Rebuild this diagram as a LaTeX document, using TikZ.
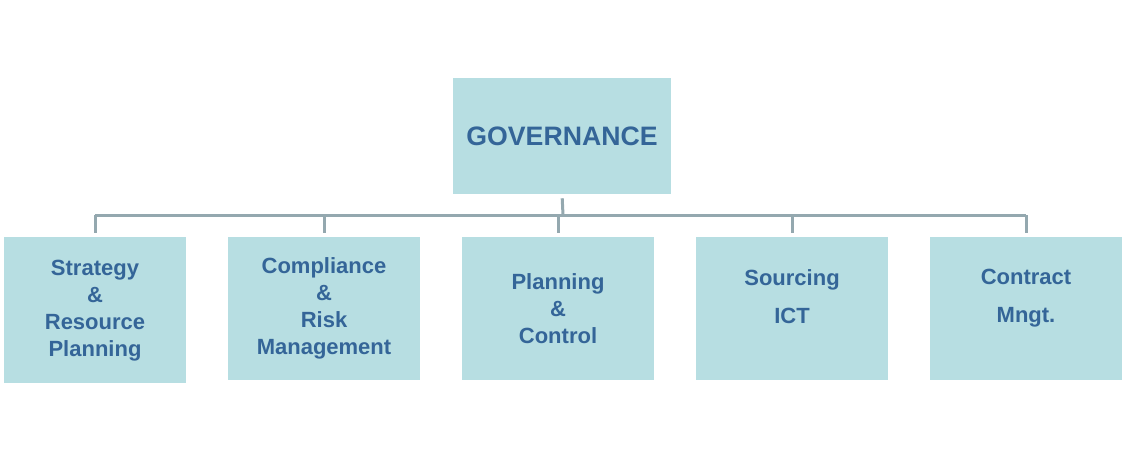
\documentclass[tikz,border=0pt]{standalone}
\usepackage{fontspec}
\setmainfont{Liberation Sans}
\definecolor{boxfill}{RGB}{183,222,226}
\definecolor{boxtext}{RGB}{52,101,152}
\definecolor{linkcol}{RGB}{148,168,175}

\begin{document}
\begin{tikzpicture}[x=0.75pt,y=0.75pt,yscale=-1,xscale=1,
  unit/.style={fill=boxfill, draw=none, text=boxtext, align=center, inner sep=0pt,
    font=\bfseries\fontsize{16.5}{20.25}\selectfont, minimum width=144pt, minimum height=107.25pt, anchor=north},
  link/.style={draw=linkcol, line width=2.25pt}]
%set diagram size
\useasboundingbox (0,0) rectangle (1126,461);

%Shape: Rectangle [top]
\node [unit, anchor=center, minimum width=163.5pt, minimum height=87pt,
  font=\bfseries\fontsize{20}{24}\selectfont] (gov) at (562,136) {GOVERNANCE};

%Shape: Rectangle [units]
\node [unit, minimum width=136.5pt, minimum height=109.5pt] (strat) at (95,237) {Strategy\\\&\\Resource\\Planning};
\node [unit] (comp) at (324,237) {Compliance\\\&\\Risk\\Management};
\node [unit] (plan) at (558,237) {Planning\\\&\\Control};
\node [unit, text depth=19pt] (sourc) at (792,237) {Sourcing\\[8.25pt]ICT};
\node [unit, text depth=19pt] (contr) at (1026,237) {Contract\\[8.25pt]Mngt.};

%Straight Lines
\coordinate (bar) at (563,215);
\draw [link, shorten <=3pt] (gov.south) -- (bar);
\draw [link] (strat.north |- bar) -- (contr.north |- bar);
\foreach \n in {strat,comp,plan,sourc,contr}
  \draw [link, shorten >=3pt] (\n.north |- bar) -- (\n.north);

\end{tikzpicture}
\end{document}
